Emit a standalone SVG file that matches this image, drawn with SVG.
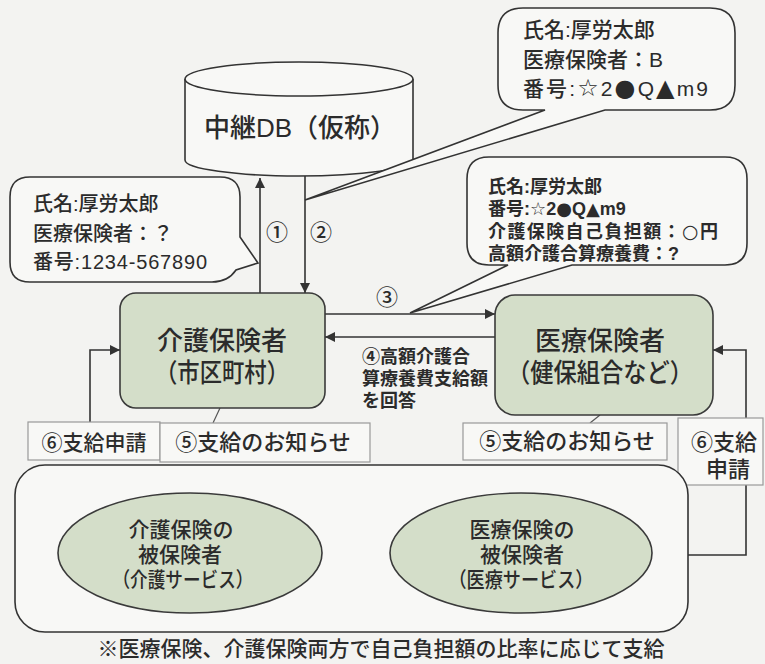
<svg xmlns="http://www.w3.org/2000/svg" width="765" height="664" viewBox="0 0 765 664">
<defs>
<style>
text{font-family:"Liberation Sans","Noto Sans CJK JP",sans-serif;fill:#2b2b2b;font-weight:500}
.sym{font-family:"DejaVu Sans","Noto Sans CJK JP",sans-serif}
.ln{fill:none;stroke:#333;stroke-width:1.6}
.thin{fill:none;stroke:#555;stroke-width:1.2}
.bub{fill:#f8f8f6;stroke:#333;stroke-width:1.6}
.grn{fill:#d4dec9;stroke:#3a3a3a;stroke-width:1.6}
.lbl{fill:#f8f8f6;stroke:#999;stroke-width:1.2}
.b{font-weight:bold}
</style>
<marker id="ah" viewBox="0 0 10 10" refX="10" refY="5" markerWidth="11" markerHeight="10" markerUnits="userSpaceOnUse" orient="auto"><path d="M0,0 L10,5 L0,10 Z" fill="#333"/></marker>
</defs>
<rect width="765" height="664" fill="#f3f3f1"/>

<g id="db">
<path class="bub" d="M185,79 V160 A114,16 0 0 0 413,160 V79"/>
<ellipse class="bub" cx="299" cy="79" rx="114" ry="17"/>
<text x="300" y="137" font-size="26" text-anchor="middle">中継DB（仮称）</text>
</g>

<g id="bubble-top">
<path class="bub" d="M523,8 H710 Q735,8 735,33 V85 Q735,110 710,110 H605 L305,200 L545,110 H523 Q498,110 498,85 V33 Q498,8 523,8 Z"/>
<text font-size="21"><tspan x="523" y="37">氏名:厚労太郎</tspan><tspan x="523" y="67">医療保険者：B</tspan><tspan x="523" y="96" textLength="185" lengthAdjust="spacing">番号:<tspan class="sym" font-size="24">☆</tspan>2<tspan class="sym" font-size="24">●</tspan>Q<tspan class="sym" font-size="24">▲</tspan>m9</tspan></text>
</g>

<g id="bubble-left">
<path class="bub" d="M30,177 H220 Q240,177 240,197 V237 L258,263 L236,270 Q228,282 212,282 H30 Q10,282 10,262 V197 Q10,177 30,177 Z"/>
<text font-size="20"><tspan x="33" y="211">氏名:厚労太郎</tspan><tspan x="33" y="241">医療保険者：？</tspan><tspan x="33" y="269" textLength="174" lengthAdjust="spacing">番号:1234-567890</tspan></text>
</g>

<g id="bubble-mid">
<path class="bub" d="M489,157 H725 Q747,157 747,179 V243 Q747,265 725,265 H572 L410,313 L508,265 H489 Q467,265 467,243 V179 Q467,157 489,157 Z"/>
<text class="b" font-size="18"><tspan x="488" y="193">氏名:厚労太郎</tspan><tspan x="488" y="215">番号:<tspan class="sym">☆</tspan>2<tspan class="sym">●</tspan>Q<tspan class="sym">▲</tspan>m9</tspan><tspan x="488" y="238" textLength="230" lengthAdjust="spacing">介護保険自己負担額：<tspan class="sym" font-size="19">○</tspan>円</tspan><tspan x="488" y="260">高額介護合算療養費：?</tspan></text>
</g>

<g id="connectors">
<path class="ln" d="M260,293 V178" marker-end="url(#ah)"/>
<path class="ln" d="M305,176 V293" marker-end="url(#ah)"/>
<path class="ln" d="M325,314 H495" marker-end="url(#ah)"/>
<path class="ln" d="M495,337 H325" marker-end="url(#ah)"/>
<path class="ln" d="M90,422 V350 H120" marker-end="url(#ah)"/>
<path class="ln" d="M746,418 V350 H713" marker-end="url(#ah)"/>
<path class="ln" d="M746,485 V555 H688"/>
<path class="thin" d="M220,408 L213,423"/>
<path class="thin" d="M600,415 L590,423"/>
<text x="277" y="240" font-size="22" text-anchor="middle">①</text>
<text x="321" y="240" font-size="22" text-anchor="middle">②</text>
<text x="387" y="305" font-size="22" text-anchor="middle">③</text>
<text class="b" font-size="18"><tspan x="362" y="363">④高額介護合</tspan><tspan x="362" y="385">算療養費支給額</tspan><tspan x="362" y="407">を回答</tspan></text>
</g>

<g id="kaigo-hokensha">
<rect class="grn" x="120" y="293" width="205" height="115" rx="16"/>
<text font-size="26" text-anchor="middle"><tspan x="222" y="350">介護保険者</tspan><tspan x="222" y="382" textLength="134" lengthAdjust="spacingAndGlyphs">（市区町村）</tspan></text>
</g>

<g id="iryo-hokensha">
<rect class="grn" x="495" y="295" width="218" height="120" rx="20"/>
<text font-size="26" text-anchor="middle"><tspan x="600" y="350">医療保険者</tspan><tspan x="600" y="382" textLength="186" lengthAdjust="spacingAndGlyphs">（健保組合など）</tspan></text>
</g>

<g id="label-6-left">
<rect class="lbl" x="28" y="422" width="132" height="38"/>
<text x="94" y="450" font-size="21" text-anchor="middle">⑥支給申請</text>
</g>
<g id="label-5-left">
<rect class="lbl" x="160" y="423" width="210" height="39"/>
<text x="263" y="450" font-size="22" text-anchor="middle">⑤支給のお知らせ</text>
</g>
<g id="label-5-right">
<rect class="lbl" x="463" y="423" width="204" height="37"/>
<text x="567" y="449" font-size="22" text-anchor="middle">⑤支給のお知らせ</text>
</g>
<g id="label-6-right">
<rect class="lbl" x="678" y="418" width="85" height="67"/>
<text font-size="22" text-anchor="middle"><tspan x="724" y="450">⑥支給</tspan><tspan x="728" y="477">申請</tspan></text>
</g>

<g id="hihokensha">
<rect class="bub" x="15" y="465" width="673" height="167" rx="30"/>
</g>
<g id="kaigo-hihokensha">
<ellipse class="grn" cx="190" cy="553" rx="132" ry="60"/>
<text font-size="21" text-anchor="middle"><tspan x="181" y="537">介護保険の</tspan><tspan x="180" y="562">被保険者</tspan><tspan x="183" y="587" textLength="141" lengthAdjust="spacingAndGlyphs">（介護サービス）</tspan></text>
</g>
<g id="iryo-hihokensha">
<ellipse class="grn" cx="521" cy="553" rx="131" ry="60"/>
<text font-size="21" text-anchor="middle"><tspan x="522" y="537">医療保険の</tspan><tspan x="522" y="562">被保険者</tspan><tspan x="521" y="587" textLength="145" lengthAdjust="spacingAndGlyphs">（医療サービス）</tspan></text>
</g>

<text x="381" y="656" font-size="21" text-anchor="middle">※医療保険、介護保険両方で自己負担額の比率に応じて支給</text>
</svg>
